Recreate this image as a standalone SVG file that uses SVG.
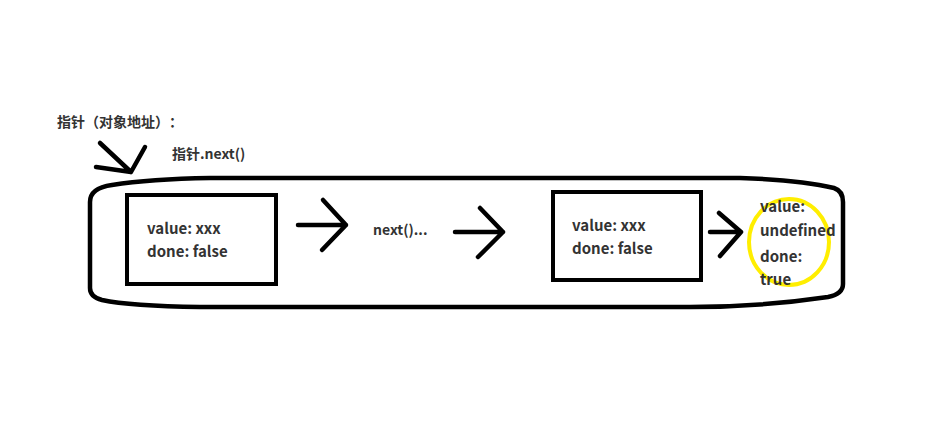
<svg xmlns="http://www.w3.org/2000/svg" width="931" height="435" viewBox="0 0 931 435">
<style>
.t{font-family:"Noto Sans CJK SC","Liberation Sans",sans-serif;font-size:14px;font-weight:bold;fill:#333}
.b{font-size:15px}
.s{fill:none;stroke:#000;stroke-width:4.5;stroke-linecap:round;stroke-linejoin:round}
</style>
<rect width="931" height="435" fill="#fff"/>
<g id="container">
<path class="s" d="M 90 202 Q 90 188 112 185 Q 150 179 210 178 L 740 178 Q 800 180 834 188 Q 843 191 843 202 L 843 284 Q 843 294 828 297 Q 760 307 690 307 L 200 307 Q 130 306 102 300 Q 90 297 90 288 Z"/>
</g>
<g id="pointer-label">
<text class="t" x="57 71 85 99 113 127 141 155 169" y="127">指针（对象地址）：</text>
</g>
<g id="next-label">
<text class="t" x="172" y="159">指针.next()</text>
</g>
<g id="box1">
<rect x="127" y="195" width="149" height="89" fill="none" stroke="#000" stroke-width="4"/>
<text class="t b" x="147" y="234">value: xxx</text>
<text class="t b" x="147" y="257">done: false</text>
</g>
<g id="next-dots">
<text class="t" x="373" y="235">next()...</text>
</g>
<g id="box2">
<rect x="553" y="192" width="148" height="88" fill="none" stroke="#000" stroke-width="4"/>
<text class="t b" x="572" y="231">value: xxx</text>
<text class="t b" x="572" y="254">done: false</text>
</g>
<g id="final">
<ellipse cx="789" cy="242" rx="40" ry="43" fill="none" stroke="#ffee00" stroke-width="4"/>
<text class="t b" x="760" y="212">value:</text>
<text class="t b" x="760" y="236">undefined</text>
<text class="t b" x="760" y="262">done:</text>
<text class="t b" x="760" y="285">true</text>
</g>
<g id="connectors">
<path class="s" d="M 100 143 L 131 172 M 145 147 L 131 172 M 96 167 L 131 172"/>
<path class="s" d="M 298 225 L 346 225 M 323 200 L 346 225 L 322 250"/>
<path class="s" d="M 455 232 L 503 232 M 480 208 L 503 232 L 478 257"/>
<path class="s" d="M 710 232 L 741 232 M 719 213 L 741 232 L 720 256"/>
</g>
</svg>
